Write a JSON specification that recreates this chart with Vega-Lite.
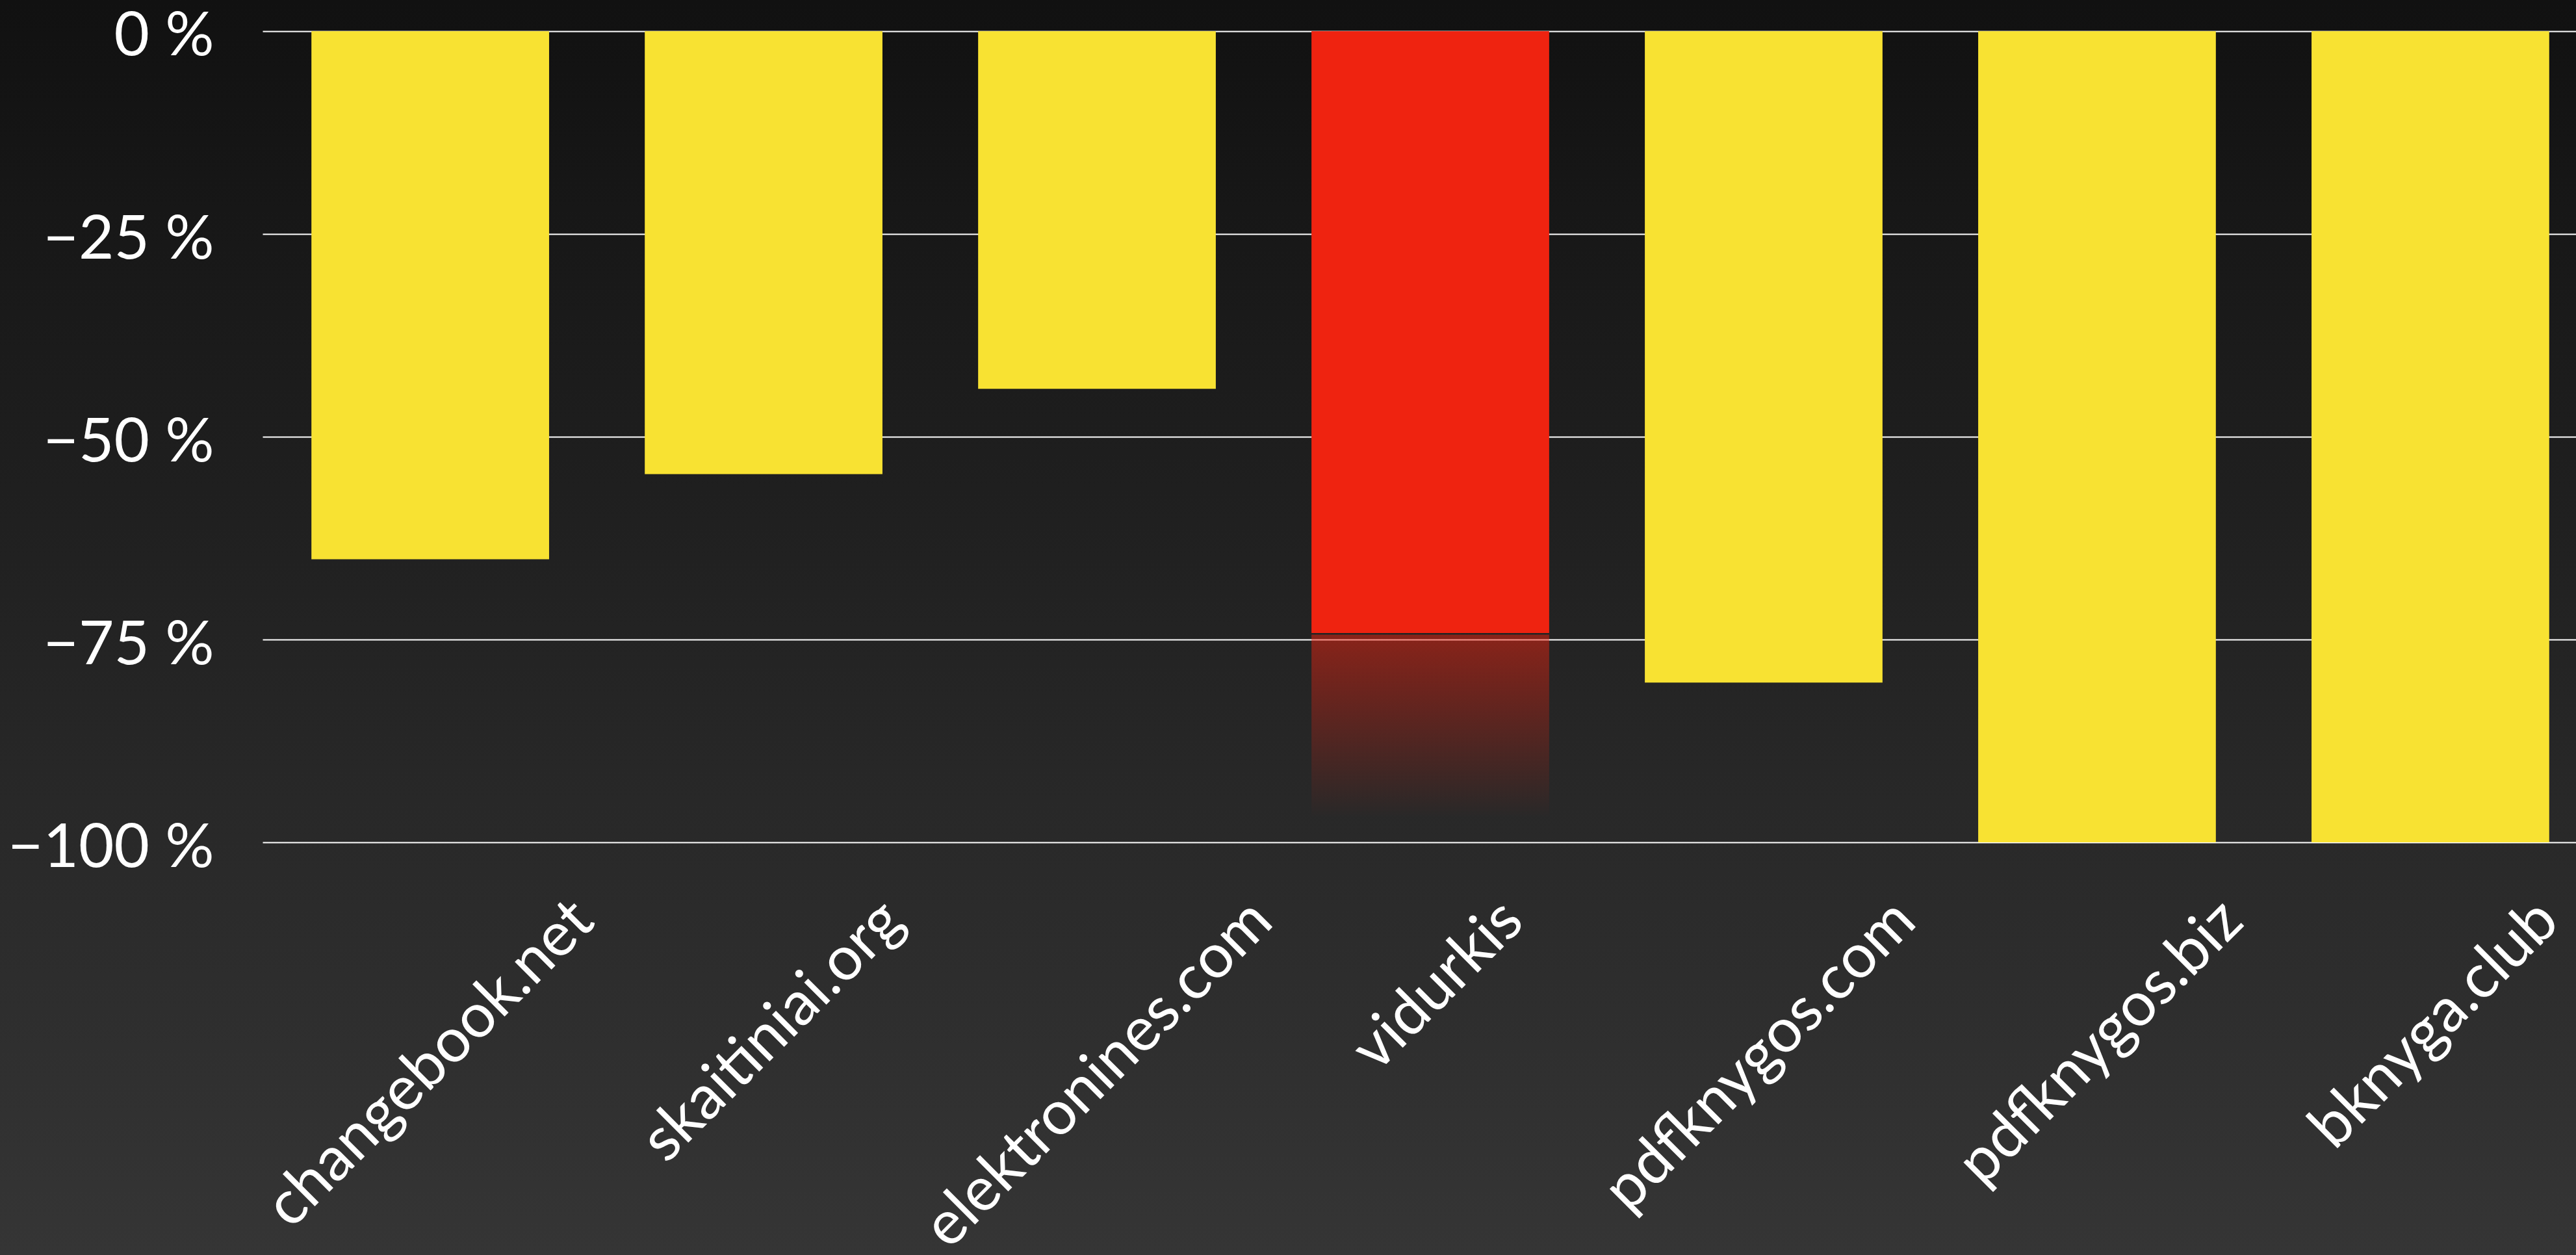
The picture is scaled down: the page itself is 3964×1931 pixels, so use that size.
{
  "$schema": "https://vega.github.io/schema/vega-lite/v6.json",
  "width": 3964,
  "height": 1931,
  "autosize": {"type": "none"},
  "padding": 0,
  "background": "#222222",
  "config": {
    "font": "Lato",
    "view": {
      "stroke": null,
      "fill": {
        "gradient": "linear", "x1": 0, "y1": 0, "x2": 0, "y2": 1,
        "stops": [{"offset": 0, "color": "#111111"}, {"offset": 1, "color": "#353535"}]
      }
    },
    "axisY": {
      "labelFontSize": 94, "labelFontWeight": 400, "labelColor": "#ffffff",
      "labelPadding": 75, "labelLimit": 0, "ticks": false, "domain": false, "grid": true,
      "gridColor": "#ffffff", "gridWidth": 2, "labelOffset": 9, "title": null
    },
    "axisX": {
      "grid": false, "domain": false, "ticks": false, "title": null
    }
  },
  "data": {
    "values": [
      {"site": "changebook.net", "value": -65.1},
      {"site": "skaitiniai.org", "value": -54.6},
      {"site": "elektronines.com", "value": -44.1},
      {"site": "vidurkis", "value": -74.2, "lo": -74.4, "hi": -97},
      {"site": "pdfknygos.com", "value": -80.3},
      {"site": "pdfknygos.biz", "value": -100},
      {"site": "bknyga.club", "value": -100}
    ]
  },
  "encoding": {
    "x": {
      "field": "site", "type": "nominal", "sort": null,
      "scale": {"paddingInner": 0.287, "paddingOuter": 0.1135, "align": 0.646, "rangeMin": 404},
      "axis": {
        "orient": "bottom", "offset": -635,
        "labelAngle": -45, "labelAlign": "right", "labelBaseline": "middle",
        "labelPadding": 105, "labelFontSize": 95, "labelFontWeight": 400,
        "labelColor": "#ffffff", "labelLimit": 0, "labelOverlap": false,
        "labelBound": false, "labelFlush": false,
        "labelOffset": {"expr": "0.3536*95*(0.54*(length(datum.label)-length(replace(datum.label, regexp('[^ilj.tf]','g'), ''))) + 0.27*length(replace(datum.label, regexp('[^ilj.tf]','g'), '')))"}
      }
    }
  },
  "layer": [
    {
      "mark": {"type": "bar"},
      "encoding": {
        "y": {
          "field": "value", "type": "quantitative",
          "scale": {"domain": [-150.88, 3.846], "nice": false, "zero": false},
          "axis": {
            "offset": -404,
            "values": [0, -25, -50, -75, -100],
            "labelExpr": "datum.value == 0 ? '0 %' : '−' + abs(datum.value) + ' %'"
          }
        },
        "y2": {"datum": 0},
        "color": {
          "condition": {"test": "datum.site === 'vidurkis'", "value": "#EF2310"},
          "value": "#F8E232"
        }
      }
    },
    {
      "transform": [{"filter": "isValid(datum.lo)"}],
      "mark": {
        "type": "bar",
        "fill": {
          "gradient": "linear", "x1": 0, "y1": 0, "x2": 0, "y2": 1,
          "stops": [
            {"offset": 0, "color": "rgba(239,35,16,0.5)"},
            {"offset": 1, "color": "rgba(239,35,16,0)"}
          ]
        }
      },
      "encoding": {
        "y": {"field": "lo", "type": "quantitative"},
        "y2": {"field": "hi"}
      }
    }
  ]
}
